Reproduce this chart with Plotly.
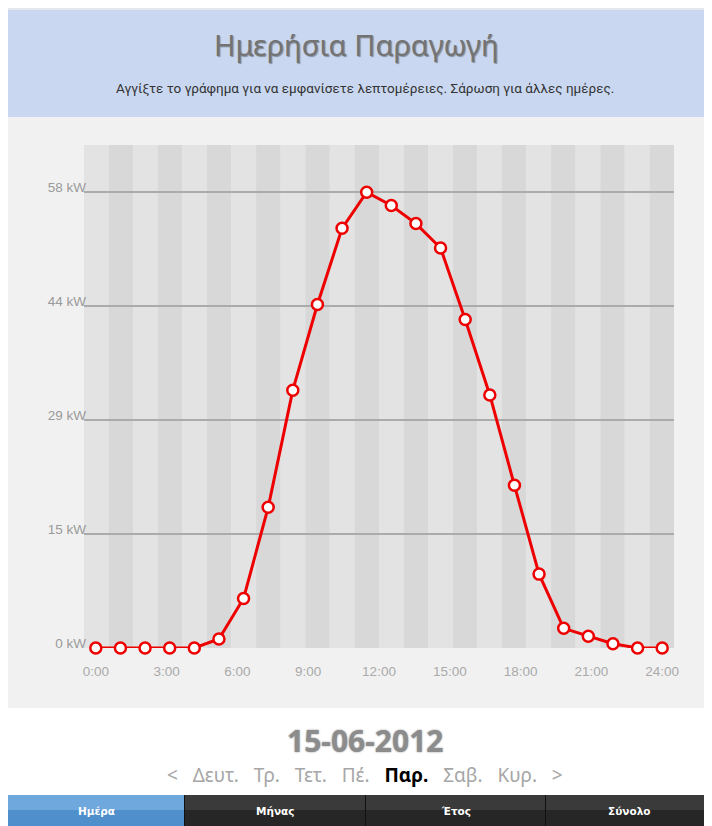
import numpy as np
import plotly.graph_objects as go

# ---- data ----
power_kw = [0, 0, 0, 0, 0, 1.15, 6.3, 17.9, 32.8, 43.7, 53.4, 58.0,
            56.3, 54.0, 50.9, 41.8, 32.2, 20.7, 9.4, 2.5, 1.5, 0.55, 0, 0]
sample_hours = np.linspace(0, 24, len(power_kw))
x_tick_vals = [0, 3, 6, 9, 12, 15, 18, 21, 24]
x_tick_text = ["0:00", "3:00", "6:00", "9:00", "12:00", "15:00", "18:00", "21:00", "24:00"]
y_tick_vals = [0, 14.5, 29, 43.5, 58]
y_tick_text = ["0 kW", "15 kW", "29 kW", "44 kW", "58 kW"]
title_text = "Ημερήσια Παραγωγή"
subtitle_text = "Αγγίξτε το γράφημα για να εμφανίσετε λεπτομέρειες. Σάρωση για άλλες ημέρες."
date_text = "15-06-2012"
days = ["Δευτ.", "Τρ.", "Τετ.", "Πέ.", "Παρ.", "Σαβ.", "Κυρ."]
selected_day = "Παρ."
tabs = ["Ημέρα", "Μήνας", "Έτος", "Σύνολο"]

# ---- geometry (page pixels; the page body has an 8px margin) ----
OX, OY = 8, 8
W, H = 712 - OX, 826 - OY
L, R, T, B = 84, 674, 145, 648          # plot area in page pixels
pw, ph = R - L, B - T

def px(x):
    return (x - L) / pw

def py(y):
    return (B - y) / ph

shapes = []
def rect(x0, y0, x1, y1, color):
    shapes.append(dict(type="rect", xref="paper", yref="paper",
                       x0=px(x0), x1=px(x1), y0=py(y1), y1=py(y0),
                       fillcolor=color, line=dict(width=0), layer="below"))

# header shadow + band
rect(8, 8, 712, 10, "#e4e8ee")
rect(8, 10, 712, 117, "#c9d8f0")
# chart panel
rect(8, 117, 712, 708, "#f1f1f1")
# stripes
nb = 24
for i in range(nb):
    shapes.append(dict(type="rect", xref="paper", yref="paper",
                       x0=i / nb, x1=(i + 1) / nb, y0=0, y1=1,
                       fillcolor="#e3e3e3" if i % 2 == 0 else "#d8d8d8",
                       line=dict(width=0), layer="below"))
# tab bar
tab_edges = [8, 185, 366, 546, 712]
for i in range(4):
    x0, x1 = tab_edges[i], tab_edges[i + 1]
    if i == 0:
        rect(x0, 795, x1, 810, "#6ea8dd")
        rect(x0, 810, x1, 826, "#4e8fcc")
    else:
        rect(x0, 795, x1, 810, "#3a3a3a")
        rect(x0, 810, x1, 826, "#262626")
for xe in tab_edges[1:4]:
    rect(xe - 1, 795, xe, 826, "#111111")

fig = go.Figure()
fig.add_trace(go.Scatter(
    x=sample_hours, y=power_kw, mode="lines+markers",
    line=dict(color="#ee0000", width=3),
    marker=dict(size=11, color="white", line=dict(color="#ee0000", width=2.5)),
    cliponaxis=False, hoverinfo="skip", showlegend=False))

annotations = []
def ann(x, y, text, size, color, family, extra_font=None):
    f = dict(size=size, color=color, family=family)
    if extra_font:
        f.update(extra_font)
    annotations.append(dict(xref="paper", yref="paper", x=px(x), y=py(y),
                            text=text, showarrow=False, xanchor="center", yanchor="middle",
                            font=f))

ann(356, 45, title_text, 29, "#737373", "Noto Sans",
    dict(shadow="1px 1px 1px rgba(0,0,0,0.35)"))
ann(365, 89, subtitle_text, 13.5, "#333333", "Roboto")
ann(365, 740, "<b>" + date_text + "</b>", 30, "#8c8c8c", "Noto Sans",
    dict(shadow="0px 0px 2px rgba(0,0,0,0.45)"))
day_parts = []
for d in days:
    if d == selected_day:
        day_parts.append("<b><span style='color:#000000'>" + d + "</span></b>")
    else:
        day_parts.append(d)
sep = "&nbsp;&nbsp; "
ann(365, 775, "&lt;" + sep + sep.join(day_parts) + sep + "&gt;", 19, "#a6a6a6", "Noto Sans")
for i, t in enumerate(tabs):
    ann((tab_edges[i] + tab_edges[i + 1]) / 2, 811, "<b>" + t + "</b>", 10.5, "white", "DejaVu Sans")

fig.update_layout(
    width=W, height=H,
    margin=dict(l=L - OX, r=712 - R, t=T - OY, b=826 - B, pad=0),
    paper_bgcolor="white", plot_bgcolor="rgba(0,0,0,0)",
    shapes=shapes, annotations=annotations,
    xaxis=dict(range=[-0.5, 24.5], tickvals=x_tick_vals, ticktext=x_tick_text,
               showgrid=False, zeroline=False, showline=False, ticks="",
               tickfont=dict(family="Liberation Sans", size=13.5, color="#aaaaaa"),
               ticklabelstandoff=13, fixedrange=True),
    yaxis=dict(range=[0, 64], tickvals=y_tick_vals, ticktext=y_tick_text,
               showgrid=True, gridcolor="#ababab", gridwidth=1.5,
               zeroline=False, showline=False, ticks="",
               tickfont=dict(family="Liberation Sans", size=13.5, color="#9a9a9a"),
               ticklabelshift=-5, ticklabelstandoff=-3, fixedrange=True),
)

fig.write_html("out.html")
